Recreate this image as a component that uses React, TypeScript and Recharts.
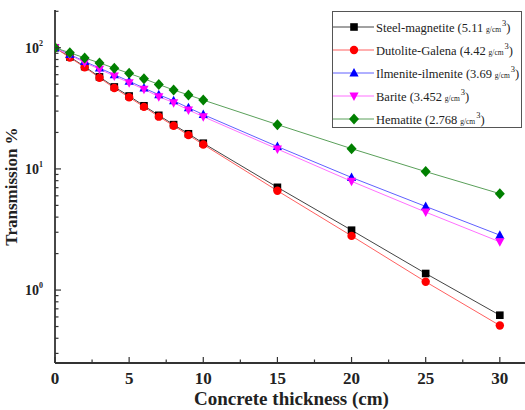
import React from 'react';
import { LineChart, Line, XAxis, YAxis, Legend } from 'recharts';

const thickness = [0, 1, 2, 3, 4, 5, 6, 7, 8, 9, 10, 15, 20, 25, 30];
const steelMagnetite = [100, 84, 70, 57.5, 47.5, 40, 33.2, 27.7, 23.2, 19.5, 16.3, 7.05, 3.12, 1.37, 0.62];
const dutoliteGalena = [100, 83, 69, 56.5, 46.5, 39, 32.5, 27, 22.7, 19, 15.9, 6.6, 2.8, 1.17, 0.51];
const ilmeniteIlmenite = [100, 88, 77, 68, 60, 53, 46.5, 41, 36.5, 32, 28.1, 15.3, 8.5, 4.9, 2.84];
const barite = [100, 87, 75.5, 66.5, 58.5, 51.5, 45.5, 39.5, 35.2, 30.7, 27.0, 14.6, 7.9, 4.4, 2.5];
const hematite = [100, 91, 82.5, 75, 67.8, 61.5, 55.5, 49.8, 44.8, 40.8, 37.0, 23.2, 14.7, 9.5, 6.25];

const seriesNames = ['Steel-magnetite', 'Dutolite-Galena', 'Ilmenite-ilmenite', 'Barite', 'Hematite'];
const seriesDensities = ['5.11', '4.42', '3.69', '3.452', '2.768'];
const seriesKeys = ['steel', 'dutolite', 'ilmenite', 'barite', 'hematite'];
const seriesValues = [steelMagnetite, dutoliteGalena, ilmeniteIlmenite, barite, hematite];
const markerColors = ['#000000', '#ff0000', '#0000ff', '#ff00ff', '#008000'];
const lineColors = ['#444444', '#ff6060', '#6060ff', '#ff70ff', '#5aa05a'];
const markerShapes = ['square', 'circle', 'triangle', 'invtriangle', 'diamond'];

const xTicks = [0, 2.5, 5, 7.5, 10, 12.5, 15, 17.5, 20, 22.5, 25, 27.5, 30];
const xTickLabels = [0, 5, 10, 15, 20, 25, 30];
const topTicks = [0, 1, 2, 3, 4, 5, 6, 7, 8, 9, 10];
const yTicks = [0.3, 0.4, 0.5, 0.6, 0.7, 0.8, 0.9, 1, 2, 3, 4, 5, 6, 7, 8, 9, 10, 20, 30, 40, 50, 60, 70, 80, 90, 100, 200];

const data = thickness.map((t, i) => {
  const row: any = { t };
  seriesKeys.forEach((k, j) => {
    row[k] = seriesValues[j][i];
  });
  return row;
});

const FONT = "'Liberation Serif', 'Times New Roman', serif";
const AXIS = '#333333';

function Marker({ shape, color, cx, cy }: any) {
  if (cx == null || cy == null) return null;
  if (shape === 'square') return <rect x={cx - 3.8} y={cy - 3.8} width={7.6} height={7.6} fill={color} />;
  if (shape === 'circle') return <circle cx={cx} cy={cy} r={4.2} fill={color} />;
  if (shape === 'triangle')
    return <polygon points={`${cx},${cy - 5} ${cx - 4.6},${cy + 3.5} ${cx + 4.6},${cy + 3.5}`} fill={color} />;
  if (shape === 'invtriangle')
    return <polygon points={`${cx},${cy + 5} ${cx - 4.6},${cy - 3.5} ${cx + 4.6},${cy - 3.5}`} fill={color} />;
  return <polygon points={`${cx},${cy - 5.5} ${cx + 5},${cy} ${cx},${cy + 5.5} ${cx - 5},${cy}`} fill={color} />;
}

const isMajorLog = (v: number) => Math.abs(Math.log10(v) - Math.round(Math.log10(v))) < 1e-9;

function YTick(props: any) {
  const { x, y, payload } = props;
  const v = payload.value;
  const major = isMajorLog(v);
  const exp = Math.round(Math.log10(v));
  return (
    <g>
      <line x1={x} x2={x + (major ? 6 : 3.5)} y1={y} y2={y} stroke={AXIS} strokeWidth={1.2} />
      {major && (
        <text x={x - 12} y={y + 5} textAnchor="end" fontFamily={FONT} fontWeight="bold" fontSize={14} fill="#222">
          10
          <tspan dy={-7} fontSize={8}>{exp}</tspan>
        </text>
      )}
    </g>
  );
}

function XTick(props: any) {
  const { x, y, payload } = props;
  const v = payload.value;
  const major = xTickLabels.includes(v);
  return (
    <g>
      <line x1={x} x2={x} y1={y} y2={y - (major ? 6 : 3.5)} stroke={AXIS} strokeWidth={1.2} />
      {major && (
        <text x={x} y={y + 21} textAnchor="middle" fontFamily={FONT} fontWeight="bold" fontSize={17} fill="#222">
          {v}
        </text>
      )}
    </g>
  );
}

function TopTick(props: any) {
  const { x, y, payload } = props;
  const major = payload.value % 2 === 0;
  return <line x1={x} x2={x} y1={y} y2={y + (major ? 6 : 4)} stroke={AXIS} strokeWidth={1.2} />;
}

function LegendBox() {
  return (
    <div
      style={{
        border: '1px solid #555',
        background: '#fff',
        width: 190,
        height: 117,
        boxSizing: 'border-box',
        paddingTop: 3,
        fontFamily: FONT,
        fontSize: 12.5,
        color: '#222',
      }}
    >
      {seriesNames.map((name, i) => (
        <div key={name} style={{ display: 'flex', alignItems: 'center', height: 23, whiteSpace: 'nowrap', fontFamily: FONT }}>
          <svg width={41} height={14} style={{ flex: 'none' }}>
            <line x1={0} x2={41} y1={7} y2={7} stroke={lineColors[i]} strokeWidth={1} />
            <Marker shape={markerShapes[i]} color={markerColors[i]} cx={21} cy={7} />
          </svg>
          <span style={{ marginLeft: 2, fontFamily: FONT, fontSize: 12.5 }}>
            {name} ({seriesDensities[i]}
            <span style={{ fontSize: 7.5, margin: '0 1px', fontFamily: FONT }}> g/cm</span>
            <sup style={{ fontSize: 8.5, verticalAlign: 6, fontFamily: FONT }}>3</sup>)
          </span>
        </div>
      ))}
    </div>
  );
}

export default function App() {
  return (
    <div style={{ position: 'absolute', left: 0, top: 0, width: 525, height: 410, overflow: 'hidden', background: '#fff', fontFamily: FONT }}>
      <LineChart width={528} height={410} data={data} margin={{ top: 10, right: 0, bottom: 17, left: 10 }}>
        <XAxis
          dataKey="t"
          type="number"
          domain={[0, 31.9]}
          ticks={xTicks}
          interval={0}
          tickSize={0}
          tickMargin={0}
          tick={<XTick />}
          tickLine={false}
          height={30}
          allowDataOverflow
          axisLine={{ stroke: AXIS, strokeWidth: 1.8 }}
          label={{
            value: 'Concrete thickness (cm)',
            position: 'insideBottom',
            offset: -12,
            style: { fontFamily: FONT, fontWeight: 'bold', fontSize: 19, fill: '#222' },
          }}
        />
        <XAxis
          xAxisId="top"
          orientation="top"
          type="number"
          domain={[0, 10]}
          ticks={topTicks}
          interval={0}
          tickSize={0}
          tickMargin={0}
          tick={<TopTick />}
          tickLine={false}
          height={0}
          allowDataOverflow
          axisLine={{ stroke: AXIS, strokeWidth: 1.8 }}
        />
        <YAxis
          type="number"
          scale="log"
          domain={[0.25, 205]}
          ticks={yTicks}
          interval={0}
          tickSize={0}
          tickMargin={0}
          tick={<YTick />}
          tickLine={false}
          width={45}
          allowDataOverflow
          axisLine={{ stroke: AXIS, strokeWidth: 1.8 }}
          label={{
            value: 'Transmission %',
            angle: -90,
            position: 'insideLeft',
            offset: 0,
            dx: 1,
            style: { fontFamily: FONT, fontWeight: 'bold', fontSize: 17, fill: '#222', textAnchor: 'middle' },
          }}
        />
        <Legend
          layout="vertical"
          verticalAlign="middle"
          align="center"
          content={() => <LegendBox />}
          wrapperStyle={{ position: 'absolute', left: 332, top: 11, width: 190, height: 117, fontFamily: FONT }}
        />
        {seriesKeys.map((k, i) => (
          <Line
            key={k}
            dataKey={k}
            name={seriesNames[i]}
            stroke={lineColors[i]}
            strokeWidth={1}
            isAnimationActive={false}
            dot={(p: any) => <Marker key={`${k}-${p.index}`} shape={markerShapes[i]} color={markerColors[i]} cx={p.cx} cy={p.cy} />}
            activeDot={false}
          />
        ))}
      </LineChart>
    </div>
  );
}
